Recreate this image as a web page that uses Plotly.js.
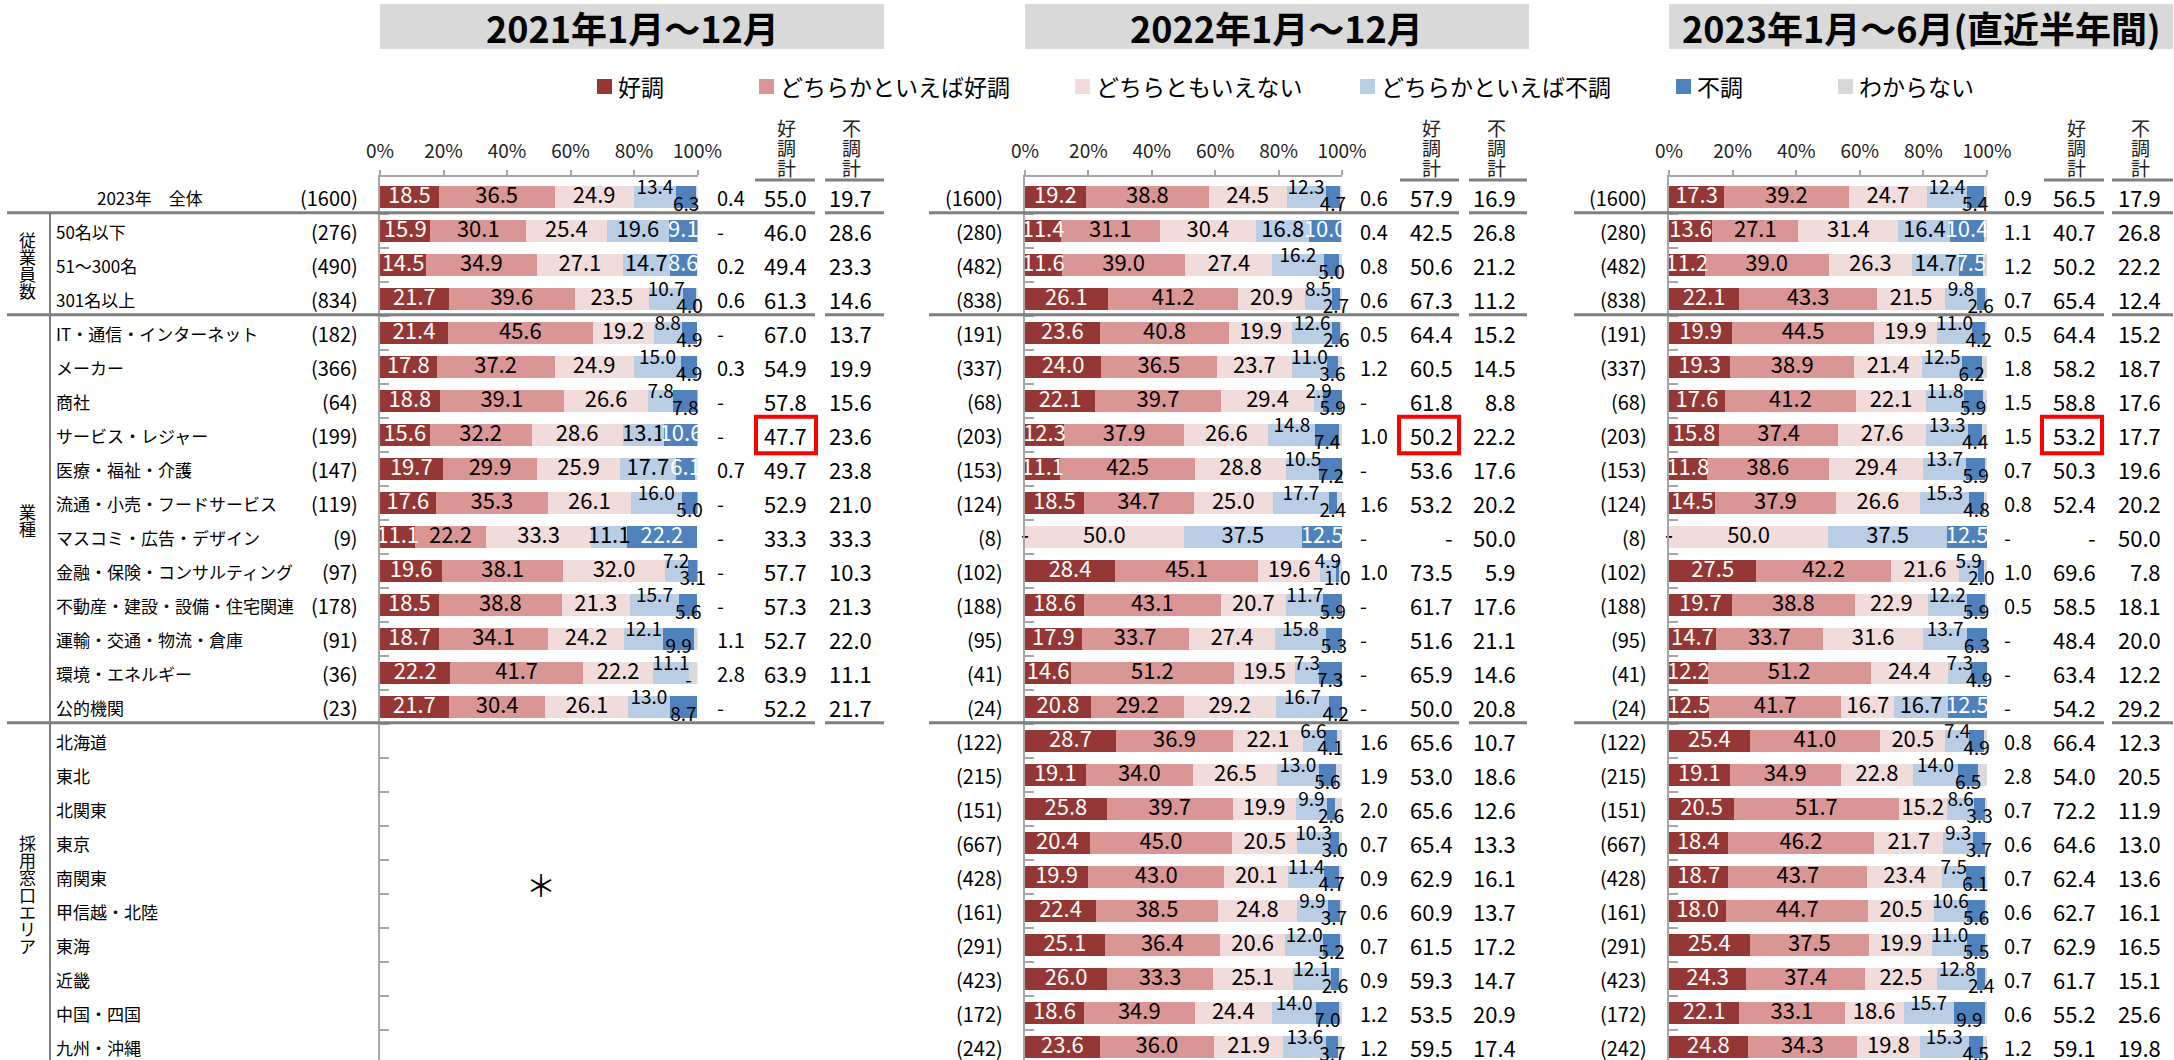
<!DOCTYPE html>
<html><head><meta charset="utf-8">
<script src="https://cdn.plot.ly/plotly-3.0.1.min.js"></script>
<style>html,body{margin:0;padding:0;background:#fff;}#chart{width:2174px;height:1060px;}</style>
</head><body><div id="chart"></div>
<script>
// ---------------- DATA ----------------
const periods = ["2021年1月～12月", "2022年1月～12月", "2023年1月～6月(直近半年間)"];
const seriesNames = ["好調", "どちらかといえば好調", "どちらともいえない", "どちらかといえば不調", "不調", "わからない"];
const seriesColors = ["#953735", "#D99694", "#F2DCDB", "#B9CDE5", "#4F81BD", "#D9D9D9"];
const categories = ["2023年　全体", "50名以下", "51～300名", "301名以上", "IT・通信・インターネット", "メーカー", "商社",
  "サービス・レジャー", "医療・福祉・介護", "流通・小売・フードサービス", "マスコミ・広告・デザイン", "金融・保険・コンサルティング",
  "不動産・建設・設備・住宅関連", "運輸・交通・物流・倉庫", "環境・エネルギー", "公的機関", "北海道", "東北", "北関東", "東京",
  "南関東", "甲信越・北陸", "東海", "近畿", "中国・四国", "九州・沖縄"];
const groupNames = ["従業員数", "業種", "採用窓口エリア"];
const groupRows = [[1, 3], [4, 15], [16, 25]];
const tickLabels = ["0%", "20%", "40%", "60%", "80%", "100%"];
const goodTotalHeader = "好調計";
const badTotalHeader = "不調計";
const noDataMark = "＊";

const n2021 = [1600, 276, 490, 834, 182, 366, 64, 199, 147, 119, 9, 97, 178, 91, 36, 23];
const good2021 = [18.5, 15.9, 14.5, 21.7, 21.4, 17.8, 18.8, 15.6, 19.7, 17.6, 11.1, 19.6, 18.5, 18.7, 22.2, 21.7];
const ratherGood2021 = [36.5, 30.1, 34.9, 39.6, 45.6, 37.2, 39.1, 32.2, 29.9, 35.3, 22.2, 38.1, 38.8, 34.1, 41.7, 30.4];
const neutral2021 = [24.9, 25.4, 27.1, 23.5, 19.2, 24.9, 26.6, 28.6, 25.9, 26.1, 33.3, 32.0, 21.3, 24.2, 22.2, 26.1];
const ratherBad2021 = [13.4, 19.6, 14.7, 10.7, 8.8, 15.0, 7.8, 13.1, 17.7, 16.0, 11.1, 7.2, 15.7, 12.1, 11.1, 13.0];
const bad2021 = [6.3, 9.1, 8.6, 4.0, 4.9, 4.9, 7.8, 10.6, 6.1, 5.0, 22.2, 3.1, 5.6, 9.9, 0, 8.7];
const unknown2021 = [0.4, 0, 0.2, 0.6, 0, 0.3, 0, 0, 0.7, 0, 0, 0, 0, 1.1, 2.8, 0];
const goodTotal2021 = [55.0, 46.0, 49.4, 61.3, 67.0, 54.9, 57.8, 47.7, 49.7, 52.9, 33.3, 57.7, 57.3, 52.7, 63.9, 52.2];
const badTotal2021 = [19.7, 28.6, 23.3, 14.6, 13.7, 19.9, 15.6, 23.6, 23.8, 21.0, 33.3, 10.3, 21.3, 22.0, 11.1, 21.7];

const n2022 = [1600, 280, 482, 838, 191, 337, 68, 203, 153, 124, 8, 102, 188, 95, 41, 24, 122, 215, 151, 667, 428, 161, 291, 423, 172, 242];
const good2022 = [19.2, 11.4, 11.6, 26.1, 23.6, 24.0, 22.1, 12.3, 11.1, 18.5, 0, 28.4, 18.6, 17.9, 14.6, 20.8, 28.7, 19.1, 25.8, 20.4, 19.9, 22.4, 25.1, 26.0, 18.6, 23.6];
const ratherGood2022 = [38.8, 31.1, 39.0, 41.2, 40.8, 36.5, 39.7, 37.9, 42.5, 34.7, 0, 45.1, 43.1, 33.7, 51.2, 29.2, 36.9, 34.0, 39.7, 45.0, 43.0, 38.5, 36.4, 33.3, 34.9, 36.0];
const neutral2022 = [24.5, 30.4, 27.4, 20.9, 19.9, 23.7, 29.4, 26.6, 28.8, 25.0, 50.0, 19.6, 20.7, 27.4, 19.5, 29.2, 22.1, 26.5, 19.9, 20.5, 20.1, 24.8, 20.6, 25.1, 24.4, 21.9];
const ratherBad2022 = [12.3, 16.8, 16.2, 8.5, 12.6, 11.0, 2.9, 14.8, 10.5, 17.7, 37.5, 4.9, 11.7, 15.8, 7.3, 16.7, 6.6, 13.0, 9.9, 10.3, 11.4, 9.9, 12.0, 12.1, 14.0, 13.6];
const bad2022 = [4.7, 10.0, 5.0, 2.7, 2.6, 3.6, 5.9, 7.4, 7.2, 2.4, 12.5, 1.0, 5.9, 5.3, 7.3, 4.2, 4.1, 5.6, 2.6, 3.0, 4.7, 3.7, 5.2, 2.6, 7.0, 3.7];
const unknown2022 = [0.6, 0.4, 0.8, 0.6, 0.5, 1.2, 0, 1.0, 0, 1.6, 0, 1.0, 0, 0, 0, 0, 1.6, 1.9, 2.0, 0.7, 0.9, 0.6, 0.7, 0.9, 1.2, 1.2];
const goodTotal2022 = [57.9, 42.5, 50.6, 67.3, 64.4, 60.5, 61.8, 50.2, 53.6, 53.2, 0, 73.5, 61.7, 51.6, 65.9, 50.0, 65.6, 53.0, 65.6, 65.4, 62.9, 60.9, 61.5, 59.3, 53.5, 59.5];
const badTotal2022 = [16.9, 26.8, 21.2, 11.2, 15.2, 14.5, 8.8, 22.2, 17.6, 20.2, 50.0, 5.9, 17.6, 21.1, 14.6, 20.8, 10.7, 18.6, 12.6, 13.3, 16.1, 13.7, 17.2, 14.7, 20.9, 17.4];

const n2023 = [1600, 280, 482, 838, 191, 337, 68, 203, 153, 124, 8, 102, 188, 95, 41, 24, 122, 215, 151, 667, 428, 161, 291, 423, 172, 242];
const good2023 = [17.3, 13.6, 11.2, 22.1, 19.9, 19.3, 17.6, 15.8, 11.8, 14.5, 0, 27.5, 19.7, 14.7, 12.2, 12.5, 25.4, 19.1, 20.5, 18.4, 18.7, 18.0, 25.4, 24.3, 22.1, 24.8];
const ratherGood2023 = [39.2, 27.1, 39.0, 43.3, 44.5, 38.9, 41.2, 37.4, 38.6, 37.9, 0, 42.2, 38.8, 33.7, 51.2, 41.7, 41.0, 34.9, 51.7, 46.2, 43.7, 44.7, 37.5, 37.4, 33.1, 34.3];
const neutral2023 = [24.7, 31.4, 26.3, 21.5, 19.9, 21.4, 22.1, 27.6, 29.4, 26.6, 50.0, 21.6, 22.9, 31.6, 24.4, 16.7, 20.5, 22.8, 15.2, 21.7, 23.4, 20.5, 19.9, 22.5, 18.6, 19.8];
const ratherBad2023 = [12.4, 16.4, 14.7, 9.8, 11.0, 12.5, 11.8, 13.3, 13.7, 15.3, 37.5, 5.9, 12.2, 13.7, 7.3, 16.7, 7.4, 14.0, 8.6, 9.3, 7.5, 10.6, 11.0, 12.8, 15.7, 15.3];
const bad2023 = [5.4, 10.4, 7.5, 2.6, 4.2, 6.2, 5.9, 4.4, 5.9, 4.8, 12.5, 2.0, 5.9, 6.3, 4.9, 12.5, 4.9, 6.5, 3.3, 3.7, 6.1, 5.6, 5.5, 2.4, 9.9, 4.5];
const unknown2023 = [0.9, 1.1, 1.2, 0.7, 0.5, 1.8, 1.5, 1.5, 0.7, 0.8, 0, 1.0, 0.5, 0, 0, 0, 0.8, 2.8, 0.7, 0.6, 0.7, 0.6, 0.7, 0.7, 0.6, 1.2];
const goodTotal2023 = [56.5, 40.7, 50.2, 65.4, 64.4, 58.2, 58.8, 53.2, 50.3, 52.4, 0, 69.6, 58.5, 48.4, 63.4, 54.2, 66.4, 54.0, 72.2, 64.6, 62.4, 62.7, 62.9, 61.7, 55.2, 59.1];
const badTotal2023 = [17.9, 26.8, 22.2, 12.4, 15.2, 18.7, 17.6, 17.7, 19.6, 20.2, 50.0, 7.8, 18.1, 20.0, 12.2, 29.2, 12.3, 20.5, 11.9, 13.0, 13.6, 16.1, 16.5, 15.1, 25.6, 19.8];

// rows whose two blue labels sit inside the bar (others are lifted above / dropped below)
const inlineBlueRows = [[1, 2, 7, 8, 10], [1, 10], [1, 2, 10, 15]];
const highlightRow = 7;

// ---------------- LAYOUT GEOMETRY ----------------
const W = 2174, H = 1060, TOP = 177, ROW0 = 197, ROWH = 34;
const FONT = '"Noto Sans CJK JP", "Noto Sans", sans-serif';
const geo = [
  {bar0: 380, bar100: 697.5, nRight: 360, uLeft: 715, gRight: 809, bRight: 874, sep: [7, 815], sepB: [825, 884], hdrG: [755, 815], box: [380, 884], gHdr: 786, bHdr: 851, red: [756, 816]},
  {bar0: 1025, bar100: 1342, nRight: 1005, uLeft: 1358, gRight: 1455, bRight: 1518, sep: [929, 1459], sepB: [1469, 1527], hdrG: [1400, 1459], box: [1025, 1529], gHdr: 1431, bHdr: 1496, red: [1399, 1459]},
  {bar0: 1669, bar100: 1987, nRight: 1649, uLeft: 2002, gRight: 2098, bRight: 2163, sep: [1574, 2104], sepB: [2112, 2173], hdrG: [2044, 2104], box: [1669, 2173], gHdr: 2076, bHdr: 2140, red: [2042, 2102]}
];
const legendX = [597, 759, 1075, 1360, 1676, 1838];

const panels = [
  {n: n2021, s: [good2021, ratherGood2021, neutral2021, ratherBad2021, bad2021, unknown2021], gt: goodTotal2021, bt: badTotal2021},
  {n: n2022, s: [good2022, ratherGood2022, neutral2022, ratherBad2022, bad2022, unknown2022], gt: goodTotal2022, bt: badTotal2022},
  {n: n2023, s: [good2023, ratherGood2023, neutral2023, ratherBad2023, bad2023, unknown2023], gt: goodTotal2023, bt: badTotal2023}
];

const px = p => p / W;
const py = p => (H - p) / (H - TOP);
const yTop = (TOP - ROW0) / ROWH, yBot = (H - ROW0) / ROWH;
const fmt = v => v === 0 ? "-" : v.toFixed(1);

const traces = [], shapes = [], annotations = [];
const layout = {
  width: W, height: H, margin: {l: 0, r: 0, t: TOP, b: 0}, paper_bgcolor: "#fff", plot_bgcolor: "rgba(0,0,0,0)",
  barmode: "stack", showlegend: false, font: {family: FONT, color: "#000"}
};
const boundaries = [];
for (let i = 0; i < categories.length - 1; i++) boundaries.push(i + 0.5);

panels.forEach((P, k) => {
  const g = geo[k], suf = k === 0 ? "" : String(k + 1);
  const xa = "x" + suf, ya = "y" + suf;
  layout["xaxis" + suf] = {
    domain: [px(g.bar0), px(g.bar100)], range: [0, 100], side: "top", anchor: ya,
    tickvals: [0, 20, 40, 60, 80, 100], ticktext: tickLabels, ticks: "outside", ticklen: 5, tickwidth: 2, tickcolor: "#A6A6A6",
    showline: true, linecolor: "#A6A6A6", linewidth: 2, showgrid: false, zeroline: false, fixedrange: true,
    tickfont: {family: FONT, size: 19, color: "#222"}, ticklabelstandoff: 4
  };
  layout["yaxis" + suf] = {
    domain: [0, 1], range: [yBot, yTop], anchor: xa, showline: true, linecolor: "#A6A6A6", linewidth: 2,
    tickvals: boundaries, ticks: "inside", ticklen: 9, tickwidth: 2, tickcolor: "#A6A6A6",
    showticklabels: false, showgrid: false, zeroline: false, fixedrange: true
  };
  const rows = P.n.map((_, i) => i);
  // bars
  P.s.forEach((vals, si) => {
    traces.push({type: "bar", orientation: "h", x: vals, y: rows, xaxis: xa, yaxis: ya, width: 0.67,
      marker: {color: seriesColors[si], line: {width: 0}}, name: seriesNames[si], hoverinfo: "skip"});
  });
  // in-bar labels
  const lx = [], ly = [], lt = [], lc = [], ls = [];
  rows.forEach(r => {
    let cum = 0;
    for (let si = 0; si < 5; si++) {
      const v = P.s[si][r];
      const cx = cum + v / 2; cum += v;
      const inline = inlineBlueRows[k].includes(r);
      let y = r, color = "#000", size = 22;
      if (si >= 3 && !inline) { y = r + (si === 3 ? -0.22 : 0.27); size = 19; }
      else if ((si === 0 || si === 4) && v !== 0) color = "#fff";
      lx.push(cx); ly.push(y); lt.push(fmt(v)); lc.push(color); ls.push(size);
    }
  });
  traces.push({type: "scatter", mode: "text", x: lx, y: ly, text: lt, xaxis: xa, yaxis: ya, cliponaxis: false,
    textposition: "middle center", textfont: {family: FONT, color: lc, size: ls}, hoverinfo: "skip"});

  // table columns
  rows.forEach(r => {
    annotations.push({xref: "paper", yref: ya, x: px(g.nRight), y: r, xanchor: "right", yanchor: "middle", showarrow: false,
      text: "(" + P.n[r] + ")", font: {family: FONT, size: 20, color: "#000"}});
    annotations.push({xref: "paper", yref: ya, x: px(g.uLeft), y: r, xanchor: "left", yanchor: "middle", showarrow: false,
      text: fmt(P.s[5][r]), font: {family: FONT, size: 20, color: "#000"}});
    annotations.push({xref: "paper", yref: ya, x: px(g.gRight), y: r, xanchor: "right", yanchor: "middle", showarrow: false,
      text: fmt(P.gt[r]), font: {family: FONT, size: 22, color: "#000"}});
    annotations.push({xref: "paper", yref: ya, x: px(g.bRight), y: r, xanchor: "right", yanchor: "middle", showarrow: false,
      text: fmt(P.bt[r]), font: {family: FONT, size: 22, color: "#000"}});
  });
  // title box
  shapes.push({type: "rect", xref: "paper", yref: "paper", x0: px(g.box[0]), x1: px(g.box[1]), y0: py(49), y1: py(4),
    fillcolor: "#D9D9D9", line: {width: 0}, layer: "below"});
  annotations.push({xref: "paper", yref: "paper", x: px((g.box[0] + g.box[1]) / 2), y: py(27), xanchor: "center", yanchor: "middle",
    showarrow: false, text: "<b>" + periods[k] + "</b>", font: {family: FONT, size: 36, color: "#000"}});
  // column headers (vertical)
  [[goodTotalHeader, g.gHdr], [badTotalHeader, g.bHdr]].forEach(([t, x]) => {
    [...t].forEach((ch, j) => annotations.push({xref: "paper", yref: "paper", x: px(x), y: py(127 + j * 20.5), xanchor: "center",
      yanchor: "middle", showarrow: false, text: ch, font: {family: FONT, size: 19, color: "#222"}}));
  });
  // separator lines
  const lineStyle = {color: "#808080", width: 3};
  [g.hdrG, g.sepB].forEach(seg => shapes.push({type: "line", xref: "paper", yref: "paper", x0: px(seg[0]), x1: px(seg[1]),
    y0: py(180), y1: py(180), line: lineStyle}));
  [0.5, 3.5, 15.5].forEach(b => {
    [g.sep, g.sepB].forEach(seg => shapes.push({type: "line", xref: "paper", yref: ya, x0: px(seg[0]), x1: px(seg[1]),
      y0: b - 0.04, y1: b - 0.04, line: lineStyle}));
  });
  // highlight box
  shapes.push({type: "rect", xref: "paper", yref: ya, x0: px(g.red[0]), x1: px(g.red[1]), y0: highlightRow - 0.54, y1: highlightRow + 0.54,
    line: {color: "#FF0000", width: 4}, fillcolor: "rgba(0,0,0,0)"});
});

// row labels
categories.forEach((c, r) => {
  annotations.push({xref: "paper", yref: "y", x: px(r === 0 ? 95 : 54), y: r, xanchor: "left", yanchor: "middle", showarrow: false,
    text: c, font: {family: FONT, size: 17, color: "#000"}});
});
// group labels (vertical)
groupNames.forEach((gname, gi) => {
  const mid = (groupRows[gi][0] + groupRows[gi][1]) / 2;
  const chars = [...gname];
  chars.forEach((ch, j) => annotations.push({xref: "paper", yref: "y", x: px(27), y: mid + (j - (chars.length - 1) / 2) * 17.3 / ROWH,
    xanchor: "center", yanchor: "middle", showarrow: false, text: ch, font: {family: FONT, size: 17, color: "#000"}}));
});
shapes.push({type: "line", xref: "paper", yref: "y", x0: px(50), x1: px(50), y0: 0.46, y1: yBot, line: {color: "#808080", width: 2}});
// no data mark for 2021 area rows
annotations.push({xref: "paper", yref: "y", x: px(541), y: 20.2, xanchor: "center", yanchor: "middle", showarrow: false,
  text: noDataMark, font: {family: FONT, size: 30, color: "#000"}});

// legend
seriesNames.forEach((nm, i) => {
  shapes.push({type: "rect", xref: "paper", yref: "paper", x0: px(legendX[i]), x1: px(legendX[i] + 15), y0: py(94), y1: py(79),
    fillcolor: seriesColors[i], line: {width: 0}});
  annotations.push({xref: "paper", yref: "paper", x: px(legendX[i] + 19), y: py(86), xanchor: "left", yanchor: "middle",
    showarrow: false, text: nm, font: {family: FONT, size: 23, color: "#000"}});
});

layout.shapes = shapes;
layout.annotations = annotations;
Plotly.newPlot("chart", traces, layout, {displayModeBar: false, staticPlot: true});
</script>
</body></html>
